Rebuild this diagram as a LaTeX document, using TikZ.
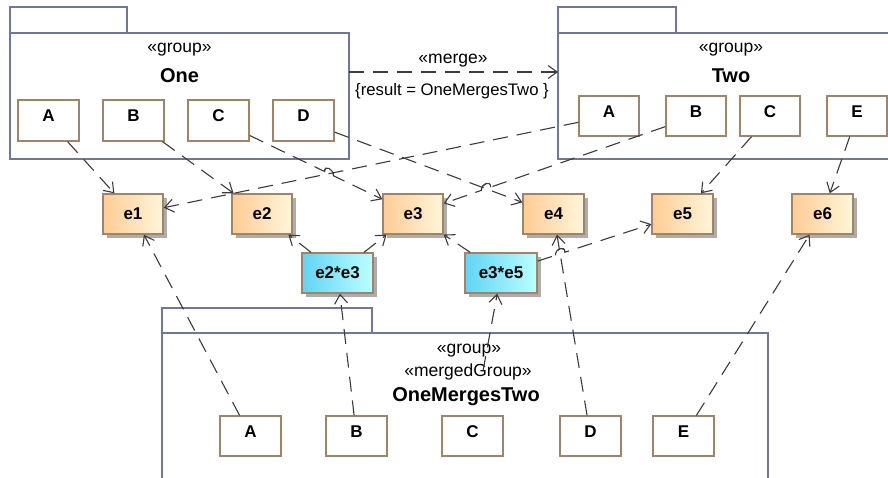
\documentclass[tikz,border=0pt]{standalone}
\usepackage{fontspec}
\setmainfont{Liberation Sans}
\usetikzlibrary{arrows.meta,shadows,calc}
\definecolor{pkgc}{HTML}{6E789F}
\definecolor{boxc}{HTML}{A08468}
\definecolor{linec}{HTML}{3C3C3C}
\definecolor{orL}{HTML}{FFCC94}
\definecolor{orR}{HTML}{FFF6DA}
\definecolor{blL}{HTML}{62D4F3}
\definecolor{blR}{HTML}{BAFFFF}
\definecolor{shc}{HTML}{ADADAD}
\begin{document}
\begin{tikzpicture}[x=1pt,y=-1pt,
 pkg/.style={draw=pkgc,line width=1.3pt,fill=white,inner sep=0pt,outer sep=0pt,anchor=north west},
 inbox/.style={draw=boxc,line width=1.3pt,fill=white,inner sep=0pt,minimum width=61pt,minimum height=41pt,
   font=\fontsize{17}{20}\selectfont\bfseries,text height=12pt,text depth=10pt},
 elem/.style={draw=boxc,line width=1.3pt,inner sep=0pt,minimum width=60pt,minimum height=40pt,
   font=\fontsize{17}{20}\selectfont\bfseries,left color=orL,right color=orR,
   drop shadow={shadow xshift=4pt,shadow yshift=-4pt,fill=shc,opacity=1}},
 delem/.style={elem,left color=blL,right color=blR,minimum width=71pt},
 stereo/.style={font=\fontsize{17.5}{20}\selectfont,inner sep=0pt},
 ptitle/.style={font=\fontsize{20}{24}\selectfont\bfseries,inner sep=0pt},
 conn/.style={draw=linec,line width=1.1pt,dash pattern=on 15pt off 9pt,
   -{Straight Barb[length=9pt,width=13pt,line width=1.1pt]}},
 hopline/.style={draw=linec,line width=1.1pt}
]
\useasboundingbox (0,0) rectangle (888,477);
\clip (0,0) rectangle (888,477);
\fill[white] (0,0) rectangle (888,477);

% package One
\node[pkg,minimum width=117pt,minimum height=26pt] (onetab) at (10,7) {};
\node[pkg,minimum width=339pt,minimum height=126pt] (one) at (10,33) {};
\node[stereo] (oneS) at (179.5,50) {«group»};
\node[ptitle] (oneT) at (179.5,76) {One};

% package Two
\node[pkg,minimum width=118pt,minimum height=26pt] (twotab) at (558,7) {};
\node[pkg,minimum width=345pt,minimum height=126pt] (two) at (558,33) {};
\node[stereo] (twoS) at (731,50) {«group»};
\node[ptitle] (twoT) at (731,76) {Two};

% package OneMergesTwo
\node[pkg,minimum width=210pt,minimum height=25pt] (bottab) at (162,308) {};
\node[pkg,minimum width=606pt,minimum height=170pt] (bot) at (162,333) {};
\node[stereo] (botS) at (469,351) {«group»};
\node[stereo] (botM) at (468,372) {«mergedGroup»};
\node[ptitle] (botT) at (466,397) {OneMergesTwo};

% inner boxes of One
\node[inbox] (oa) at (48.5,120.5) {A};
\node[inbox] (ob) at (133.5,120.5) {B};
\node[inbox] (oc) at (218.5,120.5) {C};
\node[inbox] (od) at (303.5,120.5) {D};

% inner boxes of Two
\node[inbox,minimum width=60pt,minimum height=40pt] (ta) at (609,116) {A};
\node[inbox,minimum width=60pt,minimum height=40pt] (tb) at (696,116) {B};
\node[inbox,minimum width=60pt,minimum height=40pt] (tc) at (770,116) {C};
\node[inbox,minimum width=60pt,minimum height=40pt] (te) at (857,116) {E};

% inner boxes of OneMergesTwo
\node[inbox,minimum height=40pt] (ba) at (250.5,436) {A};
\node[inbox,minimum height=40pt] (bb) at (356.5,436) {B};
\node[inbox,minimum height=40pt] (bc) at (472.5,436) {C};
\node[inbox,minimum height=40pt] (bd) at (590.5,436) {D};
\node[inbox,minimum height=40pt] (be) at (683.5,436) {E};

% elements
\node[elem] (e1) at (133,214) {e1};
\node[elem] (e2) at (262,214) {e2};
\node[elem] (e3) at (413,214) {e3};
\node[elem,minimum width=61pt] (e4) at (553.5,214) {e4};
\node[elem,minimum width=61pt] (e5) at (682.5,214) {e5};
\node[elem,minimum width=61pt] (e6) at (822.5,214) {e6};
\node[delem] (e23) at (337.5,273) {e2*e3};
\node[delem,minimum width=72pt] (e35) at (501,273) {e3*e5};

% merge
\draw[conn] ([yshift=-39pt]one.north east) -- ([yshift=-39pt]two.north west);
\node[stereo] (mergeL) at (453,61) {«merge»};
\node[font=\fontsize{16.7}{20}\selectfont,inner sep=0pt] (mergeC) at (452,91) {\{result = OneMergesTwo \}};

% crossings with line hops
\coordinate (x1) at (intersection of oc--e3 and ta--e1);
\coordinate (x2) at (intersection of tb--e3 and od--e4);
\coordinate (x3) at (intersection of e35--e5 and bd--e4);

% connectors
\draw[conn] (oa) -- (e1);
\draw[conn] (ob) -- (e2);
\draw[conn] (oc) -- ($(x1)!5pt!(oc)$) .. controls +(0,-7) and +(0,-7) .. ($(x1)!5pt!(e3)$) -- (e3);
\draw[hopline] ($(x1)!5pt!(oc)$) .. controls +(0,-7) and +(0,-7) .. ($(x1)!5pt!(e3)$);
\draw[conn] (od) -- (e4);
\draw[conn] (ta) -- (e1);
\draw[conn] (tb) -- ($(x2)!5pt!(tb)$) .. controls +(0,-7) and +(0,-7) .. ($(x2)!5pt!(e3)$) -- (e3);
\draw[hopline] ($(x2)!5pt!(tb)$) .. controls +(0,-7) and +(0,-7) .. ($(x2)!5pt!(e3)$);
\draw[conn] (tc) -- (e5);
\draw[conn] (te) -- (e6);
\draw[conn] (e23) -- (e2);
\draw[conn] (e23) -- (e3);
\draw[conn] (e35) -- (e3);
\draw[conn] (e35) -- ($(x3)!5pt!(e35)$) .. controls +(0,-7) and +(0,-7) .. ($(x3)!5pt!(e5)$) -- (e5);
\draw[hopline] ($(x3)!5pt!(e35)$) .. controls +(0,-7) and +(0,-7) .. ($(x3)!5pt!(e5)$);
\draw[conn] (ba) -- (e1);
\draw[conn] (bb) -- (e23);
\draw[conn] (bd) -- (e4);
\draw[conn] (be) -- (e6);
\coordinate (pm) at (483,371);
\draw[conn] (pm) -- (e35);
\end{tikzpicture}
\end{document}
